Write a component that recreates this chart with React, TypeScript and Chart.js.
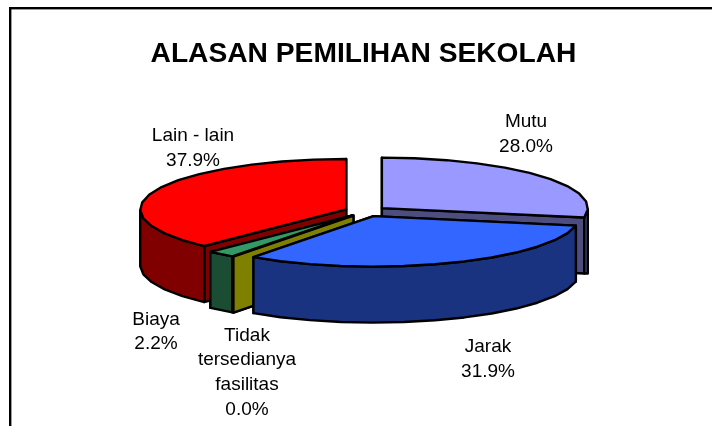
import React, { useEffect, useRef } from "react";
import { Chart, registerables } from "chart.js";

Chart.register(...registerables);

const categories = ["Mutu", "Jarak", "Tidak tersedianya fasilitas", "Biaya", "Lain - lain"];
const shares = [28.0, 31.9, 0.0, 2.2, 37.9];
const topColors = ["#9999FF", "#3366FF", "#808000", "#339966", "#FF0000"];
const sideColors = ["#4D4D80", "#1A3380", "#808000", "#1A4D33", "#800000"];
const labelLines = [["Mutu", "28.0%"], ["Jarak", "31.9%"], ["Tidak", "tersedianya", "fasilitas", "0.0%"], ["Biaya", "2.2%"], ["Lain - lain", "37.9%"]];
const labelAnchors = [[526, 122], [488, 347], [247, 335.5], [156, 319.5], [193, 136]];
const paintOrder = [0, 4, 3, 2, 1];

const TILT = 0.245;
const DEPTH = 56;
const FACET = (9 * Math.PI) / 180;
const SHIFT_X = 2.2;
const OUTLINE = "#000000";
const LABEL_FONT = "19px 'Liberation Sans', Arial, sans-serif";
const LABEL_LEADING = 24.7;

const pie3d = {
  id: "pie3d",
  beforeDraw(chart: any) {
    const { ctx, width, height } = chart;
    ctx.save();
    ctx.fillStyle = "#ffffff";
    ctx.fillRect(0, 0, width, height);
    ctx.fillStyle = "#000000";
    ctx.fillRect(9, 7, width - 9, 2.4);
    ctx.fillRect(9, 7, 2.4, height - 7);
    ctx.restore();
  },
  beforeDatasetDraw(chart: any, args: any) {
    const { ctx } = chart;
    const arcs = chart.getDatasetMeta(args.index).data;
    paintOrder.forEach((i) => {
      const arc = arcs[i];
      const { x, y, startAngle: a0, endAngle: a1, outerRadius: r } = arc;
      const mid = (a0 + a1) / 2;
      const off = arc.options.offset;
      const ax = x + SHIFT_X + Math.cos(mid) * off;
      const ay = y + Math.sin(mid) * off * TILT;
      const at = (a: number) => [ax + Math.cos(a) * r, ay + Math.sin(a) * r * TILT];
      const samples: number[] = [];
      const steps = Math.max(1, Math.round((a1 - a0) / FACET));
      for (let s = 0; s <= steps; s++) samples.push(a0 + ((a1 - a0) * s) / steps);

      const shape = (pts: number[][], fill: string) => {
        ctx.beginPath();
        pts.forEach((p, n) => (n ? ctx.lineTo(p[0], p[1]) : ctx.moveTo(p[0], p[1])));
        ctx.closePath();
        ctx.fillStyle = fill;
        ctx.fill();
        ctx.lineWidth = 2.4;
        ctx.lineJoin = "round";
        ctx.strokeStyle = OUTLINE;
        ctx.stroke();
      };

      ctx.save();
      [a0, a1].forEach((a) => {
        const p = at(a);
        shape([[ax, ay], p, [p[0], p[1] + DEPTH], [ax, ay + DEPTH]], sideColors[i]);
      });
      const lower = samples.filter((a) => Math.sin(a) > -0.001);
      if (lower.length > 1 && a1 > a0) {
        const pts = lower.map(at);
        const shallow = lower[0] > a0 && a1 - lower[0] < 0.35;
        const floor = Math.max(...pts.map((p) => p[1])) + DEPTH;
        const bottom = pts.map((p) => [p[0], shallow ? floor : p[1] + DEPTH]);
        shape([...pts, ...bottom.reverse()], sideColors[i]);
      }
      if (a1 > a0) shape([[ax, ay], ...samples.map(at)], topColors[i]);
      ctx.restore();
    });
    return false;
  },
  afterDraw(chart: any) {
    const { ctx } = chart;
    ctx.save();
    ctx.fillStyle = "#000000";
    ctx.font = LABEL_FONT;
    ctx.textAlign = "center";
    ctx.textBaseline = "middle";
    labelLines.forEach((lines, i) => {
      lines.forEach((line, n) => ctx.fillText(line, labelAnchors[i][0], labelAnchors[i][1] + n * LABEL_LEADING));
    });
    ctx.restore();
  },
};

export default function App() {
  const ref = useRef<HTMLCanvasElement>(null);
  useEffect(() => {
    const chart = new Chart(ref.current as HTMLCanvasElement, {
      type: "pie",
      data: {
        labels: categories,
        datasets: [{ data: shares, backgroundColor: topColors, borderWidth: 0, offset: 21 }],
      },
      options: {
        animation: false,
        responsive: false,
        radius: 206,
        layout: { padding: { left: 15, right: 0, top: 0, bottom: 84.3 } },
        plugins: {
          legend: { display: false },
          tooltip: { enabled: false },
          title: {
            display: true,
            text: "ALASAN PEMILIHAN SEKOLAH",
            color: "#000000",
            font: { family: "'Liberation Sans', Arial, sans-serif", size: 28.2, weight: "bold" },
            padding: { top: 37.2, bottom: 10 },
          },
        },
      },
      plugins: [pie3d],
    } as any);
    return () => chart.destroy();
  }, []);
  return (
    <canvas
      ref={ref}
      width={712}
      height={426}
      style={{ position: "absolute", left: 0, top: 0, display: "block" }}
    />
  );
}
